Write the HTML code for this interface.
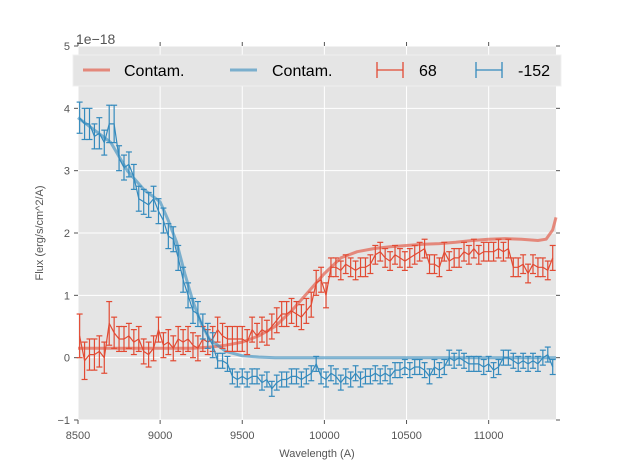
<!DOCTYPE html>
<html><head><meta charset="utf-8"><style>
body{margin:0;background:#fff;}
svg{display:block;font-family:"Liberation Sans",sans-serif;}
</style></head><body>
<svg id="chart" width="617" height="467">
<rect x="0" y="0" width="617" height="467" fill="#fff"/>
<rect x="78" y="46" width="478" height="374" fill="#e5e5e5"/>
<g id="grid"></g>
<g id="ticks"></g>
<g id="series"></g>
<text x="76" y="44" font-size="14" fill="#555">1e−18</text>
<text x="317" y="457" font-size="11" fill="#555" text-anchor="middle">Wavelength (A)</text>
<text transform="translate(43,233) rotate(-90)" font-size="11" fill="#555" text-anchor="middle">Flux (erg/s/cm^2/A)</text>
<g>
<rect x="73" y="55" width="488" height="31" fill="#e5e5e5" stroke="#f0f0f0" stroke-width="1"/>
<line x1="83" y1="70" x2="110" y2="70" stroke="#e24a33" stroke-opacity="0.6" stroke-width="3"/>
<text x="124" y="76" font-size="16" fill="#000">Contam.</text>
<line x1="230" y1="70" x2="257" y2="70" stroke="#348abd" stroke-opacity="0.6" stroke-width="3"/>
<text x="272" y="76" font-size="16" fill="#000">Contam.</text>
<g stroke="#e24a33" stroke-width="1.3"><line x1="377" y1="70" x2="403" y2="70"/><line x1="377" y1="62" x2="377" y2="78"/><line x1="403" y1="62" x2="403" y2="78"/></g>
<text x="419" y="76" font-size="16" fill="#000">68</text>
<g stroke="#348abd" stroke-width="1.3"><line x1="476" y1="70" x2="502" y2="70"/><line x1="476" y1="62" x2="476" y2="78"/><line x1="502" y1="62" x2="502" y2="78"/></g>
<text x="518" y="76" font-size="16" fill="#000">-152</text>
</g>
</svg>
<script>
const xTicks=[8500,9000,9500,10000,10500,11000];
const yTicks=[-1,0,1,2,3,4,5];
const wave=[8510,8540,8570,8600,8630,8660,8690,8720,8750,8780,8810,8840,8870,8900,8930,8960,8990,9020,9050,9080,9110,9140,9170,9200,9230,9260,9290,9320,9350,9380,9410,9440,9470,9500,9530,9560,9590,9620,9650,9680,9710,9740,9770,9800,9830,9860,9890,9920,9950,9980,10010,10040,10070,10100,10130,10160,10190,10220,10250,10280,10310,10340,10370,10400,10430,10460,10490,10520,10550,10580,10610,10640,10670,10700,10730,10760,10790,10820,10850,10880,10910,10940,10970,11000,11030,11060,11090,11120,11150,11180,11210,11240,11270,11300,11330,11360,11390];
const red68=[0.35,-0.05,0.05,0.05,0.1,0.0,0.55,0.4,0.3,0.3,0.35,0.25,0.3,0.1,0.05,0.15,0.45,0.2,0.25,0.15,0.3,0.25,0.3,0.2,0.15,0.3,0.25,0.3,0.45,0.35,0.3,0.3,0.3,0.3,0.25,0.45,0.35,0.45,0.4,0.5,0.6,0.7,0.7,0.75,0.7,0.65,0.75,0.85,1.2,1.25,1.0,1.45,1.45,1.4,1.5,1.45,1.4,1.45,1.45,1.5,1.65,1.7,1.6,1.55,1.65,1.6,1.55,1.6,1.65,1.7,1.75,1.5,1.5,1.45,1.7,1.55,1.6,1.6,1.7,1.65,1.75,1.65,1.7,1.7,1.7,1.75,1.7,1.75,1.45,1.45,1.5,1.35,1.5,1.45,1.45,1.4,1.6];
const redErr=[0.35,0.3,0.25,0.25,0.25,0.25,0.35,0.25,0.2,0.2,0.2,0.2,0.2,0.2,0.2,0.2,0.2,0.2,0.2,0.2,0.2,0.2,0.2,0.2,0.2,0.2,0.2,0.2,0.2,0.2,0.2,0.2,0.2,0.2,0.2,0.2,0.2,0.2,0.2,0.2,0.2,0.2,0.2,0.2,0.2,0.2,0.2,0.2,0.2,0.2,0.2,0.15,0.15,0.15,0.15,0.15,0.15,0.15,0.15,0.15,0.15,0.15,0.15,0.15,0.15,0.15,0.15,0.15,0.15,0.15,0.15,0.15,0.15,0.15,0.15,0.15,0.15,0.15,0.15,0.15,0.15,0.15,0.15,0.15,0.15,0.15,0.15,0.15,0.15,0.15,0.15,0.15,0.15,0.15,0.15,0.15,0.2];
const blue152=[3.85,3.75,3.75,3.55,3.6,3.45,3.75,3.75,3.2,3.05,3.1,2.9,2.55,2.5,2.45,2.55,2.35,2.2,1.95,1.9,1.6,1.25,1.0,0.75,0.7,0.5,0.35,0.2,-0.05,-0.05,-0.1,-0.3,-0.35,-0.3,-0.35,-0.3,-0.3,-0.4,-0.35,-0.5,-0.4,-0.35,-0.35,-0.3,-0.3,-0.35,-0.3,-0.25,-0.1,-0.3,-0.35,-0.25,-0.3,-0.4,-0.3,-0.35,-0.25,-0.35,-0.3,-0.3,-0.25,-0.3,-0.25,-0.3,-0.2,-0.2,-0.15,-0.2,-0.15,-0.15,-0.2,-0.3,-0.15,-0.2,-0.15,0.0,-0.05,0.0,-0.05,-0.1,-0.1,-0.1,-0.15,-0.1,-0.2,-0.15,0.0,0.0,-0.05,-0.1,-0.05,-0.1,-0.05,-0.1,0.0,0.05,-0.15];
const blueErr=[0.25,0.25,0.25,0.2,0.25,0.2,0.3,0.3,0.2,0.2,0.2,0.2,0.2,0.2,0.2,0.2,0.2,0.2,0.2,0.2,0.2,0.2,0.2,0.2,0.2,0.2,0.2,0.2,0.12,0.12,0.12,0.12,0.12,0.12,0.12,0.12,0.12,0.12,0.12,0.12,0.12,0.12,0.12,0.12,0.12,0.12,0.12,0.12,0.12,0.12,0.12,0.12,0.12,0.12,0.12,0.12,0.12,0.12,0.12,0.12,0.12,0.12,0.12,0.12,0.12,0.12,0.12,0.12,0.12,0.12,0.12,0.12,0.12,0.12,0.12,0.12,0.12,0.12,0.12,0.12,0.12,0.12,0.12,0.12,0.12,0.12,0.12,0.12,0.12,0.12,0.12,0.12,0.12,0.12,0.12,0.12,0.12];
const modelWave=[8500,8600,8700,8800,8900,9000,9050,9100,9150,9200,9250,9300,9400,9500,9600,9700,9800,9900,10000,10100,10200,10300,10400,10500,10600,10700,10800,10900,11000,11100,11200,11300,11350,11390,11410];
const contamRed=[0.15,0.15,0.15,0.15,0.15,0.15,0.15,0.15,0.15,0.15,0.16,0.17,0.2,0.25,0.35,0.5,0.75,1.05,1.35,1.6,1.7,1.75,1.78,1.8,1.82,1.83,1.85,1.88,1.9,1.91,1.9,1.88,1.9,2.05,2.25];
const contamBlue=[3.85,3.65,3.45,3.0,2.7,2.5,2.2,1.85,1.35,0.9,0.55,0.3,0.1,0.03,0.01,0.0,0.0,0.0,0.0,0.0,0.0,0.0,0.0,0.0,0.0,0.0,0.0,0.0,0.0,0.0,0.0,0.0,0.0,0.0,0.0];
const NS='http://www.w3.org/2000/svg';
const X0=78,X1=556,Y0=420,Y1=46,xmin=8500,xmax=11410,ymin=-1,ymax=5;
function sx(v){return X0+(v-xmin)/(xmax-xmin)*(X1-X0);}
function sy(v){return Y0-(v-ymin)/(ymax-ymin)*(Y0-Y1);}
function mk(tag,attrs,parent){const e=document.createElementNS(NS,tag);for(const k in attrs)e.setAttribute(k,attrs[k]);parent.appendChild(e);return e;}
const grid=document.getElementById('grid'),ticks=document.getElementById('ticks'),series=document.getElementById('series');
xTicks.forEach(t=>{const x=sx(t);
 const g=mk('line',{x1:x,y1:Y1,x2:x,y2:Y0,stroke:'#fff','stroke-width':1},grid);
 
 
 mk('line',{x1:x,y1:Y0,x2:x,y2:Y0+4,stroke:'#555'},ticks);
 mk('line',{x1:x,y1:Y1,x2:x,y2:Y1-4,stroke:'#555'},ticks);
 const l=mk('text',{x:x,y:Y0+19,'font-size':11,fill:'#555','text-anchor':'middle'},ticks);l.textContent=t;
 
 
});
yTicks.forEach(t=>{const y=sy(t);
 const g=mk('line',{x1:X0,y1:y,x2:X1,y2:y,stroke:'#fff','stroke-width':1},grid);
 
 
 mk('line',{x1:X0-4,y1:y,x2:X0,y2:y,stroke:'#555'},ticks);
 mk('line',{x1:X1,y1:y,x2:X1+4,y2:y,stroke:'#555'},ticks);
 const l=mk('text',{x:X0-8,y:y+4,'font-size':11,fill:'#555','text-anchor':'end'},ticks);l.textContent=(t<0?'−':'')+Math.abs(t);
 
 
});
function line(xs,ys,color,w,op,name){
 const p=xs.map((x,i)=>(i?'L':'M')+sx(x).toFixed(1)+','+sy(ys[i]).toFixed(1)).join('');
 const e=mk('path',{d:p,fill:'none',stroke:color,'stroke-width':w,'stroke-opacity':op,'stroke-linejoin':'round'},series);
 
 
}
function errbars(xs,ys,es,color,name){
 const g=mk('g',{stroke:color,'stroke-width':1.2},series);
 
 
 xs.forEach((x,i)=>{const px=sx(x),a=sy(ys[i]+es[i]),b=sy(ys[i]-es[i]);
  mk('line',{x1:px,y1:a,x2:px,y2:b},g);
  mk('line',{x1:px-3,y1:a,x2:px+3,y2:a},g);
  mk('line',{x1:px-3,y1:b,x2:px+3,y2:b},g);});
 line(xs,ys,color,1.2,1,name+'-line');
}
line(modelWave,contamRed,'#e24a33',3,0.6,'contam-68-line');
line(modelWave,contamBlue,'#348abd',3,0.6,'contam-152-line');
errbars(wave,red68,redErr,'#e24a33','series-68');
errbars(wave,blue152,blueErr,'#348abd','series-minus-152');
</script>
</body></html>
